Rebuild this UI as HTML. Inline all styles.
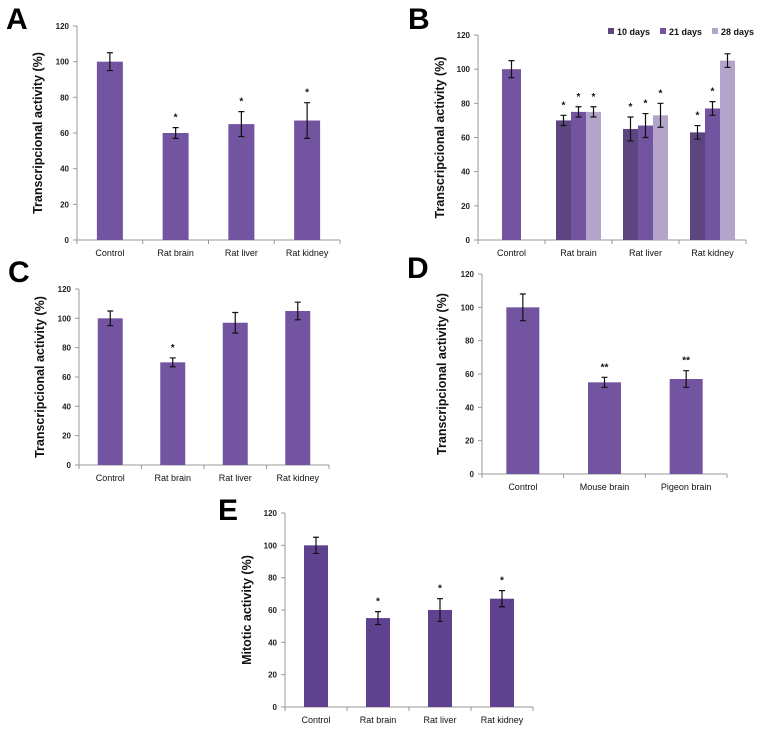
<!DOCTYPE html>
<html><head><meta charset="utf-8">
<style>
html,body{margin:0;padding:0;background:#fff;}
svg{display:block;font-family:"Liberation Sans",sans-serif;}
</style></head>
<body>
<svg id="fig" width="771" height="738" viewBox="0 0 771 738"></svg>
<script>
// ---- data ----
const catsRat = ["Control","Rat brain","Rat liver","Rat kidney"];
const catsD = ["Control","Mouse brain","Pigeon brain"];
const yTicks = [0,20,40,60,80,100,120];
const seriesB = ["10 days","21 days","28 days"];

const aVals = [100,60,65,67];
const aErr  = [5,3,7,10];
const aSig  = ["","*","*","*"];

const bControl = 100, bControlErr = 5;
const b10 = [70,65,63];
const b21 = [75,67,77];
const b28 = [75,73,105];
const b10Err = [3,7,4];
const b21Err = [3,7,4];
const b28Err = [3,7,4];
const b10Sig = ["*","*","*"];
const b21Sig = ["*","*","*"];
const b28Sig = ["*","*",""];

const cVals = [100,70,97,105];
const cErr  = [5,3,7,6];
const cSig  = ["","*","",""];

const dVals = [100,55,57];
const dErr  = [8,3,5];
const dSig  = ["","**","**"];

const eVals = [100,55,60,67];
const eErr  = [5,4,7,5];
const eSig  = ["","*","*","*"];

const svg = document.getElementById('fig');
const NS = "http://www.w3.org/2000/svg";
function mk(tag, attrs, parent){
  const e = document.createElementNS(NS, tag);
  for (const k in attrs) e.setAttribute(k, attrs[k]);
  (parent||svg).appendChild(e);
  return e;
}
function txt(s, attrs, parent){ const t = mk('text', attrs, parent); t.textContent = s; return t; }

function panel(cfg){
  const g = mk('g', {});
  
  
  const y = v => cfg.y0 - (v/120)*(cfg.y0-cfg.y120);
  const cw = (cfg.x1-cfg.x0)/cfg.cats.length;
  const cx = i => cfg.x0 + cw*(i+0.5);
  // letter
  const L = txt(cfg.letter, {x:cfg.lx, y:cfg.ly, 'font-size':30, 'font-weight':'bold', fill:'#000'}, g);
  
  
  // y axis
  const ax = mk('line', {x1:cfg.x0, y1:cfg.y120, x2:cfg.x0, y2:cfg.y0, stroke:'#999', 'stroke-width':1}, g);
  
  
  yTicks.forEach(t => {
    mk('line', {x1:cfg.x0-4, x2:cfg.x0, y1:y(t), y2:y(t), stroke:'#999'}, g);
    const tl = txt(String(t), {x:cfg.x0-8, y:y(t)+3, 'font-size':8, 'font-weight':'bold', 'text-anchor':'end', fill:'#222'}, g);
    
    
  });
  const xa = mk('line', {x1:cfg.x0, y1:cfg.y0, x2:cfg.x1, y2:cfg.y0, stroke:'#999'}, g);
  
  
  for (let i=0;i<=cfg.cats.length;i++) mk('line', {x1:cfg.x0+cw*i, x2:cfg.x0+cw*i, y1:cfg.y0, y2:cfg.y0+4, stroke:'#999'}, g);
  cfg.cats.forEach((c,i) => {
    const cl = txt(c, {x:cx(i), y:cfg.y0+16, 'font-size':9, 'text-anchor':'middle', fill:'#111'}, g);
    
    
  });
  const my = (cfg.y0+cfg.y120)/2;
  const yt = txt(cfg.ytitle, {x:cfg.tx, y:my, 'font-size':12.5, 'font-weight':'bold', 'text-anchor':'middle', fill:'#111', transform:`rotate(-90 ${cfg.tx} ${my})`}, g);
  
  
  // bars
  cfg.groups.forEach(gr => {
    gr.vals.forEach((v,k) => {
      const i = gr.idx[k];
      const bx = cx(i) + gr.off - gr.w/2;
      const r = mk('rect', {x:bx, y:y(v), width:gr.w, height:cfg.y0-y(v), fill:gr.color}, g);
      
      
      const e = gr.err[k], c = bx+gr.w/2;
      const eb = mk('path', {d:`M${c},${y(v+e)}V${y(v-e)}M${c-3},${y(v+e)}h6M${c-3},${y(v-e)}h6`, stroke:'#111', 'stroke-width':1.2, fill:'none'}, g);
      
      
      if (gr.sig[k]) {
        const s = txt(gr.sig[k], {x:c, y:y(v+e)-7, 'font-size':10, 'font-weight':'bold', 'text-anchor':'middle', fill:'#111'}, g);
        
        
      }
    });
  });
  return g;
}

const C1 = '#7354a0', Cd = '#5d4680', Cl = '#b2a5c9', CE = '#5f428f';
const TT = "Transcripcional activity (%)";

panel({name:'panel-a', letter:'A', lx:6, ly:29, x0:77, x1:340, y0:240, y120:26, tx:42, cats:catsRat, ytitle:TT,
  groups:[{vals:aVals, err:aErr, sig:aSig, idx:[0,1,2,3], off:0, w:26, color:C1}]});

const gB = panel({name:'panel-b', letter:'B', lx:408, ly:29, x0:478, x1:746, y0:240, y120:35, tx:444, cats:catsRat, ytitle:TT,
  groups:[
    {vals:[bControl], err:[bControlErr], sig:[""], idx:[0], off:0, w:19, color:C1},
    {vals:b10, err:b10Err, sig:b10Sig, idx:[1,2,3], off:-15, w:15, color:Cd},
    {vals:b21, err:b21Err, sig:b21Sig, idx:[1,2,3], off:0, w:15, color:C1},
    {vals:b28, err:b28Err, sig:b28Sig, idx:[1,2,3], off:15, w:15, color:Cl}
  ]});
const lgx = [608, 660, 712], lgc = [Cd, C1, Cl];
seriesB.forEach((s,i) => {
  const lg = mk('g', {}, gB);
  
  
  mk('rect', {x:lgx[i], y:28, width:6, height:6, fill:lgc[i]}, lg);
  txt(s, {x:lgx[i]+9, y:35, 'font-size':9, 'font-weight':'bold', fill:'#111'}, lg);
});

panel({name:'panel-c', letter:'C', lx:8, ly:282, x0:79, x1:329, y0:465, y120:289, tx:44, cats:catsRat, ytitle:TT,
  groups:[{vals:cVals, err:cErr, sig:cSig, idx:[0,1,2,3], off:0, w:25, color:C1}]});

panel({name:'panel-d', letter:'D', lx:407, ly:278, x0:482, x1:727, y0:474, y120:274, tx:446, cats:catsD, ytitle:TT,
  groups:[{vals:dVals, err:dErr, sig:dSig, idx:[0,1,2], off:0, w:33, color:C1}]});

panel({name:'panel-e', letter:'E', lx:218, ly:520, x0:285, x1:533, y0:707, y120:513, tx:251, cats:catsRat, ytitle:"Mitotic activity (%)",
  groups:[{vals:eVals, err:eErr, sig:eSig, idx:[0,1,2,3], off:0, w:24, color:CE}]});
</script>
</body></html>
